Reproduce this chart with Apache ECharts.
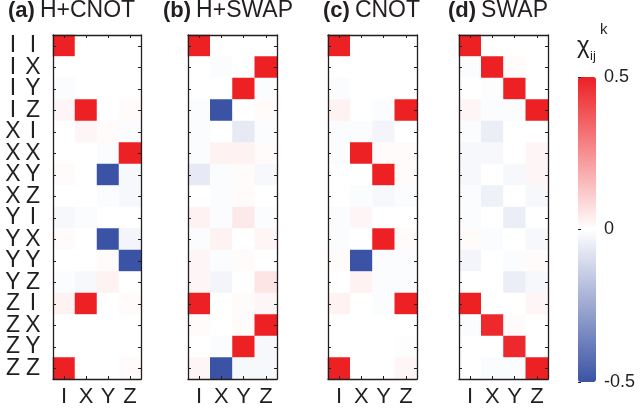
<!DOCTYPE html>
<html><head><meta charset="utf-8">
<script src="https://cdn.jsdelivr.net/npm/echarts@6/dist/echarts.min.js"></script>
<style>html,body{margin:0;padding:0;background:#fff}#c{width:641px;height:416px}</style>
</head><body><div id="c"></div>
<script>
const rowLabels = ['I I','I X','I Y','I Z','X I','X X','X Y','X Z','Y I','Y X','Y Y','Y Z','Z I','Z X','Z Y','Z Z'];
const colLabels = ['I','X','Y','Z'];
const panelTags = ['(a)','(b)','(c)','(d)'];
const panelNames = ['H+CNOT','H+SWAP','CNOT','SWAP'];
const colorbarTicks = [-0.5, 0, 0.5];

// rows: II..ZZ ; columns: I X Y Z
const hCnot = [
  [0.5,0,0,0],[0,0,0,0],[-0.01,0,0,0],[0.02,0.5,0,0.01],
  [0,0.02,0.01,-0.01],[0,0,-0.01,0.5],[0.01,0,-0.5,-0.02],[0,0,-0.01,-0.02],
  [-0.02,-0.01,0,0],[0.01,0,-0.5,-0.03],[0,0,0.01,-0.5],[-0.01,-0.02,0.03,0],
  [0.03,0.5,0,0.01],[0,0,0,0],[0,0,0,0],[0.5,0,0,0.01]
];
const hSwap = [
  [0.5,0,0,0],[0,-0.01,0,0.5],[0,0,0.5,-0.01],[-0.01,-0.5,0,0.01],
  [-0.01,0,-0.06,-0.01],[-0.01,0.03,0.03,0.01],[-0.06,-0.01,0.01,-0.02],[0,-0.01,0.01,0],
  [0.03,-0.01,0.05,-0.01],[-0.01,0.03,0,0.02],[0.02,-0.01,0.01,0],[0.02,-0.03,0,0.06],
  [0.5,0,0.01,0.02],[0.01,0,0.01,0.5],[0,-0.01,0.5,-0.02],[0.02,-0.5,-0.02,-0.02]
];
const cnot = [
  [0.5,0,0,0],[0,0,0,0],[-0.01,0,0,0],[0.03,0,-0.01,0.5],
  [-0.01,-0.01,-0.03,0],[-0.01,0.5,0.01,0.01],[0,0,0.5,0.01],[0,-0.01,-0.02,-0.01],
  [-0.01,0.02,0,0],[-0.01,0,0.5,0.01],[0.01,-0.5,-0.01,-0.01],[0,0.03,-0.01,-0.01],
  [0.03,0,-0.01,0.5],[0,0,0,0],[0,0,0,-0.005],[0.5,0,0,0.02]
];
const swap = [
  [0.5,0,0,0],[-0.01,0.5,0.01,0],[0,-0.005,0.5,0],[0.02,-0.01,-0.01,0.5],
  [-0.01,-0.05,0,0],[-0.02,-0.02,0,0.02],[-0.02,0,-0.02,0.02],[-0.01,-0.04,0,-0.02],
  [-0.01,0,-0.05,0],[0.01,-0.01,0,-0.02],[-0.03,0,-0.01,0.01],[0,0,-0.05,-0.02],
  [0.5,0,0,0.02],[-0.01,0.48,0.01,0],[0,0,0.48,0],[0,-0.01,-0.01,0.5]
];
const panels = [hCnot, hSwap, cnot, swap];

const FONT = '"Liberation Sans", Arial, Helvetica, sans-serif';
const INK = '#231f20';
const gridLefts = [52, 188, 328, 459];
const titleLefts = [8, 163, 323, 448];

const grid = [], xAxis = [], yAxis = [], series = [], title = [];
panels.forEach((m, i) => {
  grid.push({left: gridLefts[i], top: 35, width: 89, height: 344, containLabel: false});
  const axLine = {show: true, lineStyle: {color: INK, width: 1.3}};
  const tick = {show: true, inside: true, length: 3, alignWithLabel: true, lineStyle: {color: INK, width: 1}};
  xAxis.push({type: 'category', gridIndex: i, data: colLabels, position: 'bottom', z: 10,
    axisLine: axLine, axisTick: tick, splitLine: {show: false},
    axisLabel: {show: true, interval: 0, fontSize: 22, color: INK, fontFamily: FONT, margin: 7}});
  xAxis.push({type: 'category', gridIndex: i, data: colLabels, position: 'top', z: 10,
    axisLine: axLine, axisTick: tick, axisLabel: {show: false}, splitLine: {show: false}});
  yAxis.push({type: 'category', gridIndex: i, data: rowLabels, inverse: true, position: 'left', z: 10,
    axisLine: axLine, axisTick: tick, splitLine: {show: false},
    axisLabel: {show: i === 0, interval: 0, showMinLabel: true, showMaxLabel: true, hideOverlap: false,
      margin: 10, fontFamily: FONT, color: INK,
      formatter: v => { const p = v.split(' '); return '{p|' + p[0] + '}{p|' + p[1] + '}'; },
      rich: {p: {width: 20, align: 'center', fontSize: 23, lineHeight: 20, color: INK, fontFamily: FONT}}}});
  yAxis.push({type: 'category', gridIndex: i, data: rowLabels, inverse: true, position: 'right', z: 10,
    axisLine: axLine, axisTick: tick, axisLabel: {show: false}, splitLine: {show: false}});
  const data = [];
  m.forEach((row, r) => row.forEach((v, c) => data.push([c, r, v])));
  series.push({type: 'heatmap', xAxisIndex: 2 * i, yAxisIndex: 2 * i, data: data, z: 1,
    itemStyle: {borderWidth: 0}, emphasis: {disabled: true}, progressive: 0});
  title.push({left: titleLefts[i], top: 0, padding: 0,
    text: '{b|' + panelTags[i] + '} {n|' + panelNames[i] + '}',
    textStyle: {rich: {
      b: {fontSize: 22, fontWeight: 'bold', color: INK, fontFamily: FONT, lineHeight: 22},
      n: {fontSize: 23, fontWeight: 'normal', color: INK, fontFamily: FONT, lineHeight: 22}}}});
});

// colorbar axis
grid.push({left: 578, top: 77, width: 18, height: 305});
xAxis.push({type: 'value', gridIndex: 4, show: false});
yAxis.push({type: 'value', gridIndex: 4, min: colorbarTicks[0], max: colorbarTicks[2], interval: 0.5,
  position: 'right', axisLine: {show: false}, splitLine: {show: false}, z: 10,
  axisTick: {show: true, inside: false, length: 3, lineStyle: {color: INK}},
  axisLabel: {fontSize: 18, color: INK, fontFamily: FONT, margin: 8}});

const option = {
  animation: false,
  backgroundColor: '#ffffff',
  title: title,
  grid: grid, xAxis: xAxis, yAxis: yAxis, series: series,
  visualMap: {type: 'continuous', min: -0.5, max: 0.5, seriesIndex: [0, 1, 2, 3],
    calculable: false, left: 578, top: 77, padding: 0, itemWidth: 18, itemHeight: 305,
    text: null, hoverLink: false,
    inRange: {color: ['#3a53a4', '#ffffff', '#ed2024']}},
  graphic: [
    {type: 'text', left: 577, top: 34, style: {text: 'χ', font: '24px ' + FONT, fill: INK}},
    {type: 'text', left: 590, top: 50, style: {text: 'ij', font: '13px ' + FONT, fill: INK}},
    {type: 'text', left: 600, top: 22, style: {text: 'k', font: '15px ' + FONT, fill: INK}}
  ]
};
const chart = echarts.init(document.getElementById('c'), null, {renderer: 'canvas'});
chart.setOption(option);
</script></body></html>
